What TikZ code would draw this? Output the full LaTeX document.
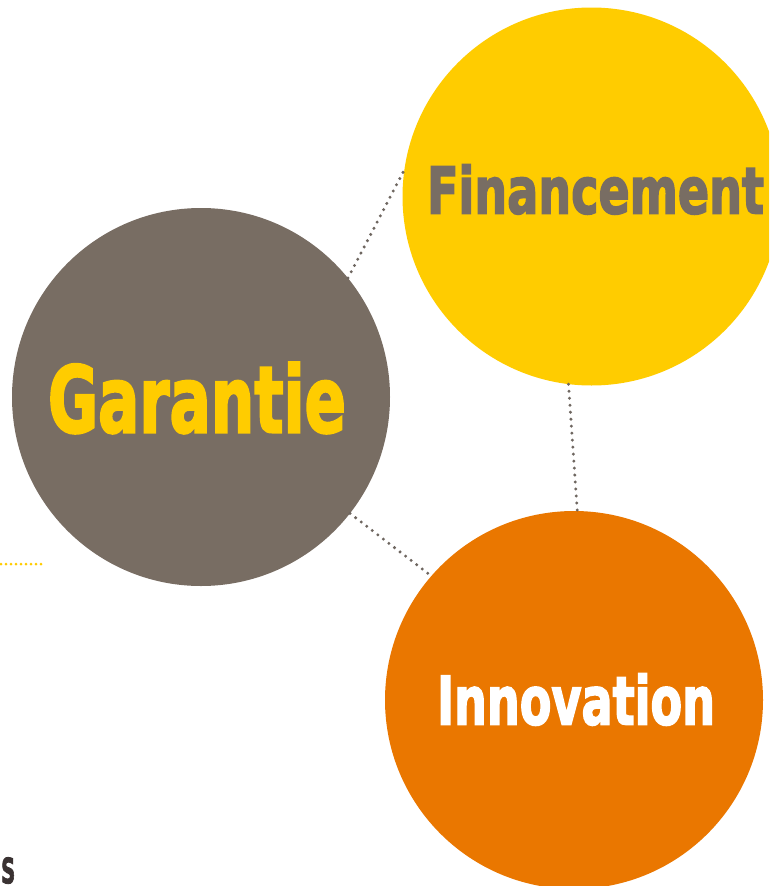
\documentclass[tikz,border=0pt]{standalone}
\usepackage{fontspec}
\usepackage{graphicx}
\newfontfamily\labelfont{DejaVu Sans Condensed}[BoldFeatures={FakeBold=2.5}]
\definecolor{jaune}{HTML}{FFCC00}
\definecolor{taupe}{HTML}{786D63}
\definecolor{orange}{HTML}{EA7700}
\definecolor{pointille}{HTML}{6E6660}
\definecolor{sombre}{HTML}{3A3232}

\begin{document}
\begin{tikzpicture}[x=1pt,y=-1pt,
  bulle/.style={circle,inner sep=0pt,minimum size=378pt},
  lien/.style={pointille,line width=3.3pt,line cap=round,dash pattern=on 0pt off 7pt},
  lienjaune/.style={jaune,line width=3pt,line cap=round,dash pattern=on 0pt off 5pt}]
\useasboundingbox (0,0) rectangle (769,886);
\clip (0,0) rectangle (769,886);
\fill[white] (0,0) rectangle (769,886);

% les trois bulles
\node[bulle,fill=jaune] (fin) at (591.5,196.5) {};
\node[bulle,fill=taupe] (gar) at (201,397) {};
\node[bulle,fill=orange] (inno) at (574,700) {};

% les textes
\node[inner sep=0pt,text=taupe] (tfin) at (595.5,189.5) {\resizebox{337pt}{49pt}{\labelfont\bfseries Financement}};
\node[inner sep=0pt,text=jaune] (tgar) at (197,398) {\resizebox{298pt}{70pt}{\labelfont\bfseries Garantie}};
\node[inner sep=0pt,text=white] (tinno) at (576,699.5) {\resizebox{278pt}{51pt}{\labelfont\bfseries Innovation}};

% les liens
\draw[lien] (gar.39) -- (fin.172);
\draw[lien] (fin.263) -- (inno.89);
\draw[lien] (gar.-38) -- (inno.139);

% morceaux en bordure
\coordinate (ga) at (1,564);
\coordinate (gb) at (45,564);
\draw[lienjaune] (ga) -- (gb);
\node[inner sep=0pt,anchor=south west,text=sombre] (bout) at (1,884) {\resizebox{14pt}{26pt}{\labelfont\bfseries S}};
\end{tikzpicture}
\end{document}
